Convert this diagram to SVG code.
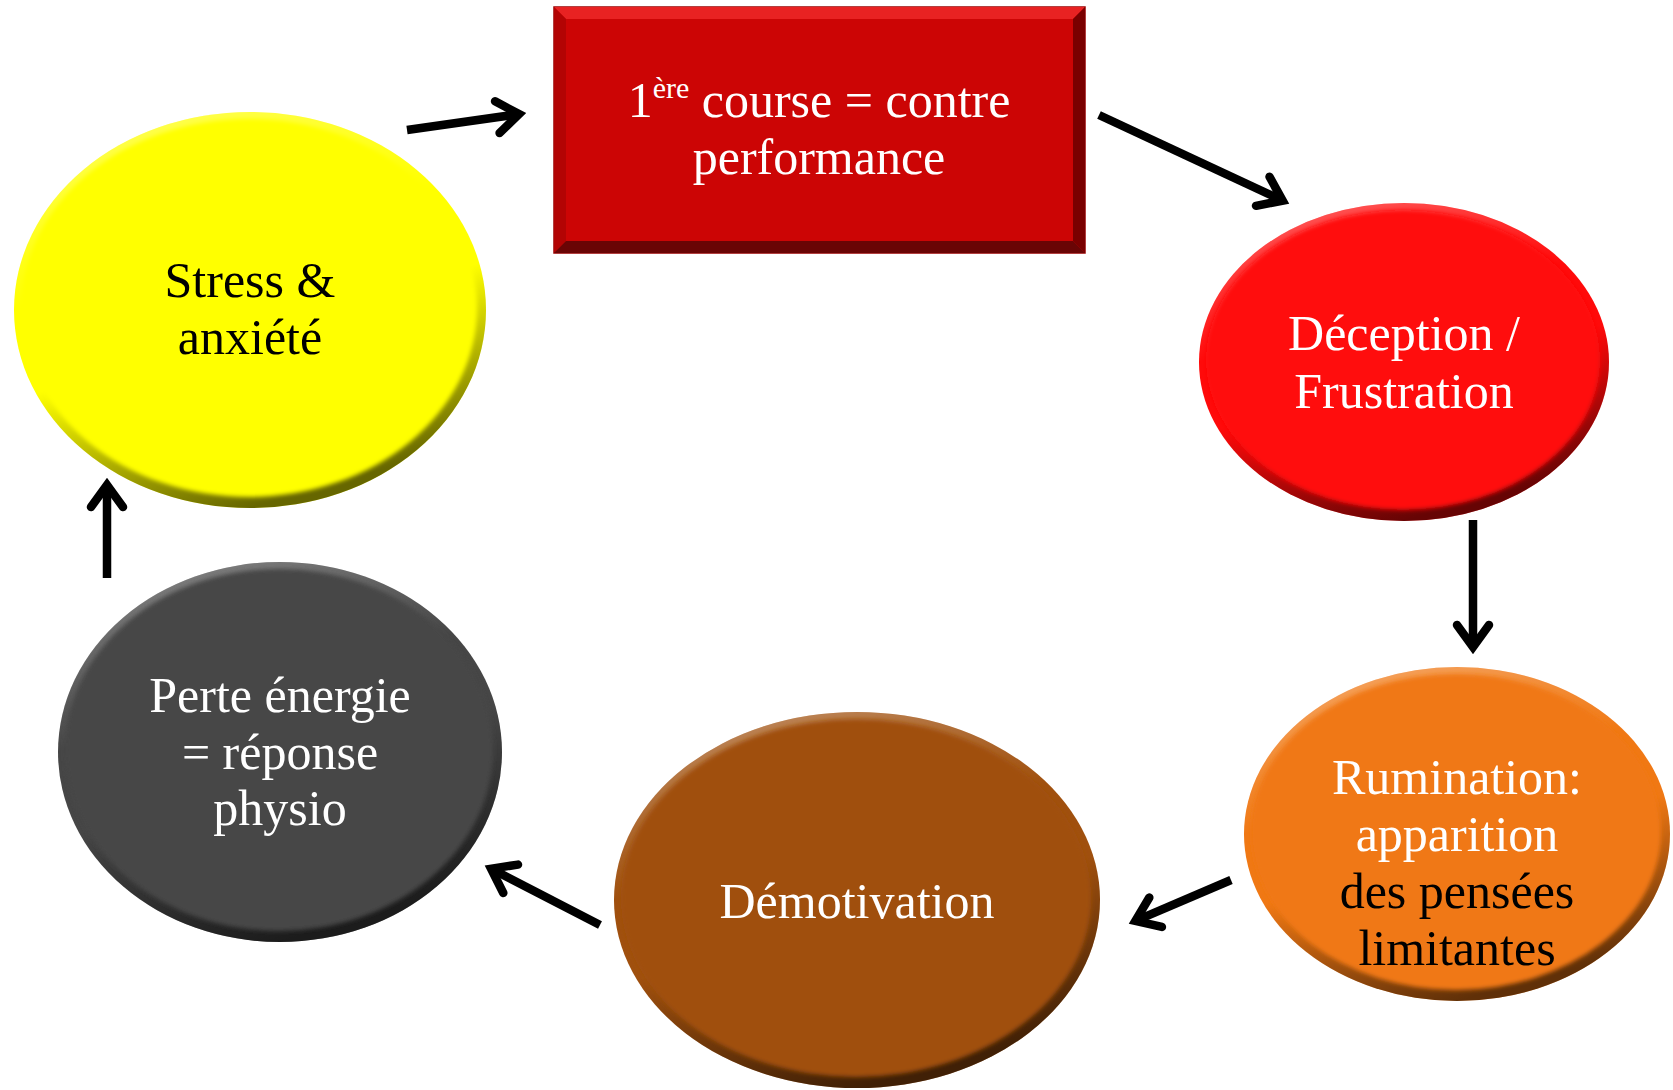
<svg xmlns="http://www.w3.org/2000/svg" width="1673" height="1090" viewBox="0 0 1673 1090">
  <style>
    .label { font-family: "Liberation Serif", "DejaVu Serif", serif; font-size: 50px; text-anchor: middle; }
    .light { fill: #ffffff; }
    .dark { fill: #000000; }
    .link { fill: none; stroke: #000000; stroke-width: 8.5; stroke-linecap: butt; }
  </style>
  <defs>
    <!-- shading laid over an ellipse to give it a raised rim -->
    <linearGradient id="rim" x1="0.15" y1="0" x2="0.5" y2="1">
      <stop offset="0" stop-color="#ffffff" stop-opacity="0.35"/>
      <stop offset="0.4" stop-color="#ffffff" stop-opacity="0"/>
      <stop offset="0.6" stop-color="#000000" stop-opacity="0"/>
      <stop offset="1" stop-color="#000000" stop-opacity="0.6"/>
    </linearGradient>
    <filter id="soft" x="-5%" y="-5%" width="110%" height="110%">
      <feGaussianBlur stdDeviation="2"/>
    </filter>
    <marker id="chevron" markerUnits="userSpaceOnUse" orient="auto" refX="0" refY="0" markerWidth="60" markerHeight="60" style="overflow:visible">
      <path d="M -22 -16 L 0 0 L -22 16" fill="none" stroke="#000000" stroke-width="8.5" stroke-linecap="round" stroke-linejoin="miter"/>
    </marker>
  </defs>

  <rect width="1673" height="1090" fill="#ffffff"/>

  <!-- connectors -->
  <g id="connectors">
    <path class="link" d="M 407 130 L 519.1 114.1" marker-end="url(#chevron)"/>
    <path class="link" d="M 1099 115 L 1282.7 200.6" marker-end="url(#chevron)"/>
    <path class="link" d="M 1473 520 L 1473 647" marker-end="url(#chevron)"/>
    <path class="link" d="M 1231 880 L 1135.4 920.9" marker-end="url(#chevron)"/>
    <path class="link" d="M 600 925 L 491.1 868.7" marker-end="url(#chevron)"/>
    <path class="link" d="M 107 578 L 107 485" marker-end="url(#chevron)"/>
  </g>

  <!-- first race: bevelled box -->
  <g id="course">
    <rect x="554" y="7" width="531" height="246" fill="#CC0505" stroke="#990000" stroke-width="1.5"/>
    <polygon points="554,7 1085,7 1073,19 566,19" fill="#E82222"/>
    <polygon points="554,7 566,19 566,241 554,253" fill="#B30404"/>
    <polygon points="1085,7 1085,253 1073,241 1073,19" fill="#7A0000"/>
    <polygon points="554,253 1085,253 1073,241 566,241" fill="#6A0505"/>
    <rect x="566" y="19" width="507" height="222" fill="#CC0505"/>
    <text class="label light" x="819" y="117">1<tspan font-size="30" dy="-19">ère</tspan><tspan dy="19"> course = contre</tspan></text>
    <text class="label light" x="819" y="174">performance</text>
  </g>

  <g id="stress">
    <ellipse cx="250" cy="310" rx="236" ry="198" fill="#FFFF00"/>
    <ellipse cx="250" cy="310" rx="236" ry="198" fill="url(#rim)"/>
    <ellipse cx="249" cy="308" rx="228" ry="189" fill="#FFFF00" filter="url(#soft)"/>
    <text class="label dark" x="250" y="297">Stress &amp;</text>
    <text class="label dark" x="250" y="354">anxiété</text>
  </g>

  <g id="deception">
    <ellipse cx="1404" cy="362" rx="205" ry="159" fill="#FF0A0A"/>
    <ellipse cx="1404" cy="362" rx="205" ry="159" fill="url(#rim)"/>
    <ellipse cx="1403" cy="360" rx="197" ry="150" fill="#FF0A0A" filter="url(#soft)"/>
    <text class="label light" x="1404" y="350">Déception /</text>
    <text class="label light" x="1404" y="408">Frustration</text>
  </g>

  <g id="rumination">
    <ellipse cx="1457" cy="834" rx="213" ry="167" fill="#F07814"/>
    <ellipse cx="1457" cy="834" rx="213" ry="167" fill="url(#rim)"/>
    <ellipse cx="1456" cy="832" rx="205" ry="158" fill="#F07814" filter="url(#soft)"/>
    <text class="label light" x="1457" y="794">Rumination:</text>
    <text class="label light" x="1457" y="851">apparition</text>
    <text class="label dark" x="1457" y="908">des pensées</text>
    <text class="label dark" x="1457" y="965">limitantes</text>
  </g>

  <g id="demotivation">
    <ellipse cx="857" cy="900" rx="243" ry="188" fill="#A0500E"/>
    <ellipse cx="857" cy="900" rx="243" ry="188" fill="url(#rim)"/>
    <ellipse cx="856" cy="898" rx="235" ry="179" fill="#A0500E" filter="url(#soft)"/>
    <text class="label light" x="857" y="918">Démotivation</text>
  </g>

  <g id="energie">
    <ellipse cx="280" cy="752" rx="222" ry="190" fill="#464646"/>
    <ellipse cx="280" cy="752" rx="222" ry="190" fill="url(#rim)"/>
    <ellipse cx="279" cy="750" rx="214" ry="181" fill="#464646" filter="url(#soft)"/>
    <text class="label light" x="280" y="712">Perte énergie</text>
    <text class="label light" x="280" y="769">= réponse</text>
    <text class="label light" x="280" y="825">physio</text>
  </g>
</svg>
